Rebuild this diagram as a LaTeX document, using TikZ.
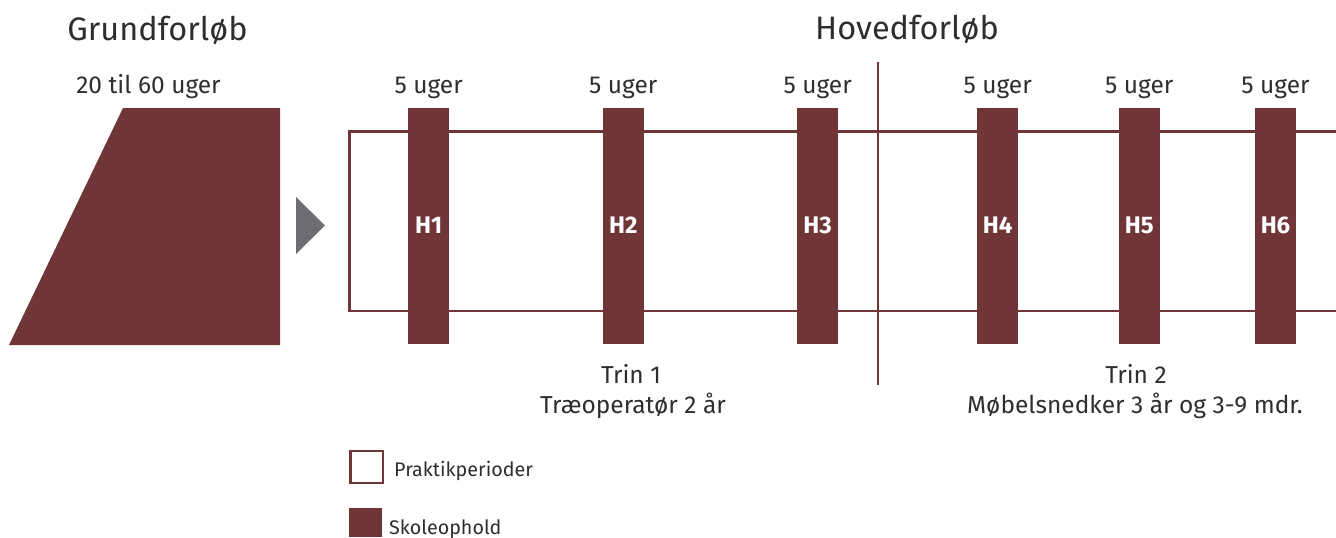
\documentclass[tikz,border=0pt]{standalone}
\usepackage{fontspec}
\setmainfont{Fira Sans}
\definecolor{bordeaux}{HTML}{703536}
\definecolor{pilgraa}{HTML}{6D6E71}
\definecolor{tekstgraa}{HTML}{2E2E2E}
\tikzset{
  skolebar/.style={fill=bordeaux, draw=none, minimum width=41pt, minimum height=236pt,
    inner sep=0pt, text=white, font=\fontsize{24}{28}\selectfont\bfseries},
  praktiklinje/.style={draw=bordeaux, line width=2.5pt},
  ugetekst/.style={text=tekstgraa, font=\fontsize{24.5}{29}\selectfont, inner sep=0pt, anchor=base},
  overskrift/.style={text=tekstgraa, font=\fontsize{32.5}{38}\selectfont, inner sep=0pt, anchor=base},
  legendetekst/.style={text=tekstgraa, font=\fontsize{19.7}{23}\selectfont, inner sep=0pt, anchor=base west},
}
\begin{document}
\begin{tikzpicture}[x=1pt, y=-1pt]
			%%%%% START %%%%%
			\useasboundingbox (0,0) rectangle (1336,538);
			
			% grundforloeb
			\fill[bordeaux] (9,345) -- (123,108) -- (280,108) -- (280,345) -- cycle;
			\fill[pilgraa] (296,197) -- (325,225.5) -- (296,254) -- cycle;
			
			\node[overskrift] (grund) at (157.5,40) {Grundforløb};
			\node[ugetekst] (grunduger) at (148.5,93) {20 til 60 uger};
			
			% praktikperioder
			\draw[praktiklinje] (1336,131.7) -- (349.5,131.7) -- (349.5,310.8) -- (1336,310.8);
			
			% skoleophold
			\node[skolebar] (h1) at (428.6,225.5) {H1};
			\node[skolebar] (h2) at (623.3,225.5) {H2};
			\node[skolebar] (h3) at (817.6,225.5) {H3};
			\node[skolebar] (h4) at (997.6,225.5) {H4};
			\node[skolebar] (h5) at (1139.3,225.5) {H5};
			\node[skolebar] (h6) at (1275.5,225.5) {H6};
			
			\node[ugetekst] (u1) at (h1.center |- 0,93) {5 uger};
			\node[ugetekst] (u2) at (h2.center |- 0,93) {5 uger};
			\node[ugetekst] (u3) at (h3.center |- 0,93) {5 uger};
			\node[ugetekst] (u4) at (h4.center |- 0,93) {5 uger};
			\node[ugetekst] (u5) at (h5.center |- 0,93) {5 uger};
			\node[ugetekst] (u6) at (h6.center |- 0,93) {5 uger};
			
			% skillelinje
			\coordinate (skiltop) at (878,61.7);
			\coordinate (skilbund) at (878,385);
			\draw[bordeaux, line width=2pt] (skiltop) -- (skilbund);
			\node[overskrift] (hoved) at (907,39) {Hovedforløb};
			
			% trin
			\node[ugetekst] (trin1) at (631,383) {Trin 1};
			\node[ugetekst] (trin1b) at (633,413) {Træoperatør 2 år};
			\node[ugetekst] (trin2) at (1136,383) {Trin 2};
			\node[ugetekst] (trin2b) at (1135,413) {Møbelsnedker 3 år og 3-9 mdr.};
			
			% legende
			\draw[praktiklinje] (350.5,451) rectangle (383,483);
			\node[legendetekst] (lpraktik) at (394,476) {Praktikperioder};
			\fill[bordeaux] (349,508) rectangle (382,537);
			\node[legendetekst] (lskole) at (389,534) {Skoleophold};
			
			%%%%% END %%%%%
\end{tikzpicture}
\end{document}
